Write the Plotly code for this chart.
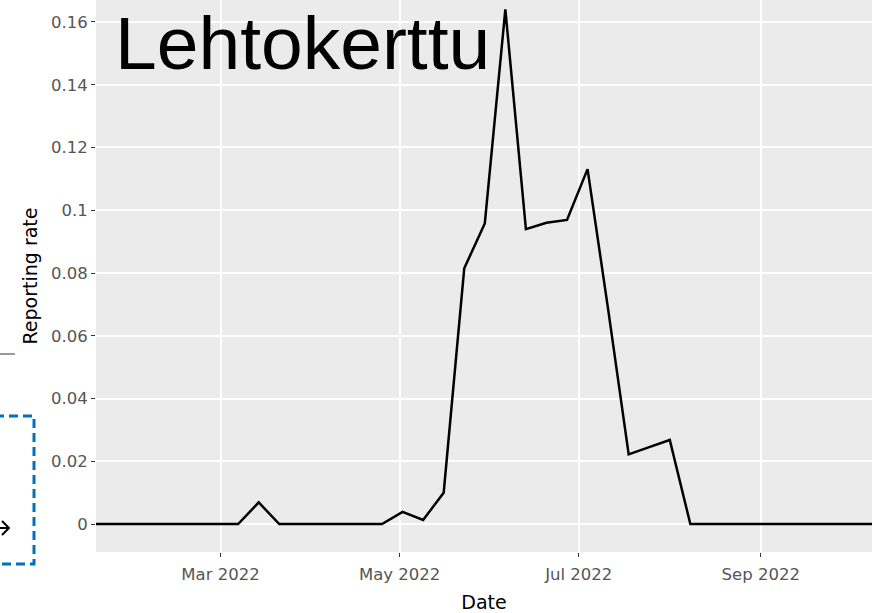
import plotly.graph_objects as go
import pandas as pd

# Weekly reporting rate (Mondays)
dates = pd.date_range("2022-01-03", "2022-10-31", freq="7D").strftime("%Y-%m-%d").tolist()
rate_by_date = {
    "2022-03-14": 0.0069,
    "2022-05-02": 0.0039,
    "2022-05-09": 0.0013,
    "2022-05-16": 0.0100,
    "2022-05-23": 0.0815,
    "2022-05-30": 0.0958,
    "2022-06-06": 0.1640,
    "2022-06-13": 0.0940,
    "2022-06-20": 0.0960,
    "2022-06-27": 0.0969,
    "2022-07-04": 0.1131,
    "2022-07-11": 0.0685,
    "2022-07-18": 0.0222,
    "2022-07-25": 0.0245,
    "2022-08-01": 0.0268,
}
rates = [rate_by_date.get(d, 0.0) for d in dates]

title_text = "Lehtokerttu"
x_title = "Date"
y_title = "Reporting rate"
x_range = ["2022-01-17 14:00", "2022-10-08 21:00"]
y_range = [-0.0089, 0.167]

W, H = 872, 613
L, R, T, B = 96, 0, 0, 61
pw, ph = W - L - R, H - T - B


def px(p):
    return (p - L) / pw


def py(q):
    return (H - B - q) / ph


fig = go.Figure()
fig.add_trace(go.Scatter(
    x=dates, y=rates, mode="lines",
    line=dict(color="black", width=2.5),
    showlegend=False, hoverinfo="x+y",
))

tick_font = dict(family="DejaVu Sans", size=16.5, color="#555555")
title_font = dict(family="DejaVu Sans", size=19, color="black")

fig.update_layout(
    width=W, height=H,
    margin=dict(l=L, r=R, t=T, b=B, autoexpand=False),
    paper_bgcolor="white",
    plot_bgcolor="#EBEBEB",
    xaxis=dict(
        range=x_range, type="date",
        tick0="2022-01-01", dtick="M2", tickformat="%b %Y",
        showgrid=True, gridcolor="white", gridwidth=1.5,
        zeroline=False, showline=False,
        ticks="outside", ticklen=4, tickcolor="#333333", tickwidth=1,
        ticklabelstandoff=3,
        tickfont=tick_font,
        title=dict(text=x_title, font=title_font, standoff=13),
        automargin=False,
    ),
    yaxis=dict(
        range=y_range,
        tick0=0, dtick=0.02,
        showgrid=True, gridcolor="white", gridwidth=1.5,
        zeroline=False, showline=False,
        ticks="outside", ticklen=4, tickcolor="#333333", tickwidth=1,
        tickfont=tick_font,
        title=dict(text=y_title, font=title_font, standoff=8),
        automargin=False,
    ),
    annotations=[dict(
        text=title_text, xref="paper", yref="paper",
        x=px(113), y=py(43), xanchor="left", yanchor="middle",
        showarrow=False,
        font=dict(family="Liberation Sans", size=75, color="black"),
    )],
    shapes=[
        # surrounding slide fragments
        dict(type="line", xref="paper", yref="paper",
             x0=px(-2), x1=px(15), y0=py(354), y1=py(354),
             line=dict(color="#9A9A9A", width=2)),
        dict(type="path", xref="paper", yref="paper",
             path=(f"M {px(-5)},{py(416)} L {px(34)},{py(416)} "
                   f"L {px(34)},{py(564)} L {px(-5)},{py(564)}"),
             line=dict(color="#0070C0", width=3, dash="9px,5px")),
        dict(type="line", xref="paper", yref="paper",
             x0=px(-2), x1=px(9), y0=py(528), y1=py(528),
             line=dict(color="black", width=2)),
        dict(type="path", xref="paper", yref="paper",
             path=(f"M {px(2)},{py(521)} L {px(9)},{py(528)} L {px(2)},{py(535)}"),
             line=dict(color="black", width=2)),
    ],
)

fig.write_html(
    "out.html",
    config={"displayModeBar": False},
    post_script="document.body.style.margin='0px';document.body.style.overflow='hidden';",
)
